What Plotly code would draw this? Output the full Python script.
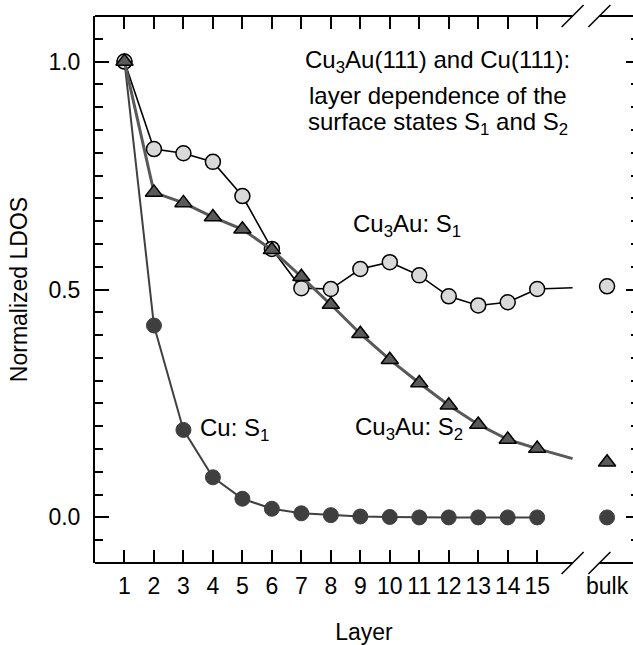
import plotly.graph_objects as go

# ---------------- data ----------------
layers = list(range(1, 16))
bulk_x = 17.37           # position of the "bulk" column on the (broken) layer axis
tail_x = 16.2            # calculated curves run on to the axis break

cu3au_s1 = [1.0, 0.808, 0.799, 0.780, 0.705, 0.589, 0.503, 0.501, 0.545, 0.560,
            0.531, 0.485, 0.465, 0.472, 0.501]
cu3au_s1_tail = 0.504
cu3au_s1_bulk = 0.507

cu3au_s2 = [1.0, 0.713, 0.690, 0.659, 0.632, 0.587, 0.528, 0.467, 0.403, 0.346,
            0.295, 0.246, 0.204, 0.171, 0.151]
cu3au_s2_tail = 0.129
cu3au_s2_bulk = 0.121

cu_s1 = [1.0, 0.421, 0.192, 0.088, 0.041, 0.019, 0.009, 0.005, 0.002, 0.001,
         0.0, 0.0, 0.0, 0.0, 0.0]
cu_s1_bulk = 0.0

y_tickvals = [0.0, 0.5, 1.0]
y_ticktext = ["0.0", "0.5", "1.0"]
x_ticktext = [str(v) for v in layers]

# ---------------- styling ----------------
FONT = "Liberation Sans, Arial, Helvetica, sans-serif"
FS = 23
FS_ANN = 24
XR = [0, 18.25]
YR = [-0.1, 1.1]
BREAK1, BREAK2 = 16.2, 17.11
PLOT_W, PLOT_H = 538, 547

fig = go.Figure()

# Cu: S1
fig.add_trace(go.Scatter(x=layers, y=cu_s1, mode="lines+markers",
                         line=dict(color="#404040", width=2),
                         marker=dict(symbol="circle", size=15, color="#3f3f3f",
                                     line=dict(color="#3f3f3f", width=1))))
fig.add_trace(go.Scatter(x=[bulk_x], y=[cu_s1_bulk], mode="markers",
                         marker=dict(symbol="circle", size=15, color="#3f3f3f",
                                     line=dict(color="#3f3f3f", width=1))))

# Cu3Au: S1
fig.add_trace(go.Scatter(x=layers + [tail_x], y=cu3au_s1 + [cu3au_s1_tail], mode="lines",
                         line=dict(color="black", width=1.6)))
fig.add_trace(go.Scatter(x=layers + [bulk_x], y=cu3au_s1 + [cu3au_s1_bulk], mode="markers",
                         marker=dict(symbol="circle", size=15, color="#d9d9d9",
                                     line=dict(color="black", width=1.5))))

# Cu3Au: S2
fig.add_trace(go.Scatter(x=layers + [tail_x], y=cu3au_s2 + [cu3au_s2_tail], mode="lines",
                         line=dict(color="#595959", width=3)))
fig.add_trace(go.Scatter(x=layers + [bulk_x], y=cu3au_s2 + [cu3au_s2_bulk], mode="markers",
                         marker=dict(symbol="triangle-up", size=15, color="#5a5a5a",
                                     line=dict(color="black", width=1.5))))

# bulk label axis
fig.add_trace(go.Scatter(x=[bulk_x], y=[0], xaxis="x2", mode="markers",
                         marker=dict(opacity=0), hoverinfo="skip"))
# right axis carrier
fig.add_trace(go.Scatter(x=[1], y=[0], yaxis="y2", mode="markers",
                         marker=dict(opacity=0), hoverinfo="skip"))

# frame lines with the axis break
shapes = []
lw = 2
PX_PER_X = PLOT_W / (XR[1] - XR[0])
for yp in (0, 1):
    shapes.append(dict(type="line", xref="x", yref="paper", x0=XR[0], x1=BREAK1,
                       y0=yp, y1=yp, line=dict(color="black", width=lw)))
    shapes.append(dict(type="line", xref="x", yref="paper", x0=BREAK2, x1=XR[1],
                       y0=yp, y1=yp, line=dict(color="black", width=lw)))
    for bx in (BREAK1, BREAK2):
        dx = 11 / PX_PER_X
        dy = 11 / PLOT_H
        shapes.append(dict(type="line", xref="x", yref="paper",
                           x0=bx - dx, x1=bx + dx, y0=yp - dy, y1=yp + dy,
                           line=dict(color="black", width=1.5)))

annotations = [
    dict(x=11.62, y=1.0, text="Cu<sub>3</sub>Au(111) and Cu(111):"),
    dict(x=11.62, y=0.925, text="layer dependence of the"),
    dict(x=11.62, y=0.864, text="surface states S<sub>1</sub> and S<sub>2</sub>"),
    dict(x=10.6, y=0.64, text="Cu<sub>3</sub>Au: S<sub>1</sub>"),
    dict(x=10.65, y=0.196, text="Cu<sub>3</sub>Au: S<sub>2</sub>"),
    dict(x=4.73, y=0.192, text="Cu: S<sub>1</sub>"),
]
for a in annotations:
    a.update(xref="x", yref="y", showarrow=False, xanchor="center", yanchor="middle",
             font=dict(family=FONT, size=FS_ANN, color="black"))

fig.update_layout(
    width=633, height=645,
    margin=dict(l=95, r=0, t=16, b=82, autoexpand=False),
    paper_bgcolor="white", plot_bgcolor="white",
    showlegend=False,
    font=dict(family=FONT, size=FS, color="black"),
    shapes=shapes,
    annotations=annotations,
    xaxis=dict(range=XR, tickvals=layers, ticktext=x_ticktext,
               ticks="inside", ticklen=13, tickwidth=1.5, tickcolor="black",
               showline=False, mirror="ticks", showgrid=False, zeroline=False,
               ticklabelstandoff=7, automargin=False,
               title=dict(text="Layer", font=dict(size=FS), standoff=25)),
    xaxis2=dict(range=XR, overlaying="x", side="bottom", tickvals=[bulk_x],
                ticktext=["bulk"], ticks="", showline=False, showgrid=False,
                zeroline=False, ticklabelstandoff=7, anchor="y",
                ticklabeloverflow="allow", automargin=False),
    yaxis=dict(range=YR, tickvals=y_tickvals, ticktext=y_ticktext,
               ticks="inside", ticklen=14, tickwidth=1.5, tickcolor="black",
               showline=True, linecolor="black", linewidth=2,
               showgrid=False, zeroline=False, automargin=False,
               minor=dict(dtick=0.05, tick0=0, ticks="inside", ticklen=8,
                          tickwidth=1.5, tickcolor="black", showgrid=False),
               ticklabelstandoff=8,
               title=dict(text="Normalized LDOS", font=dict(size=FS), standoff=14)),
    yaxis2=dict(range=YR, overlaying="y", side="right", tickvals=y_tickvals,
                ticks="inside", ticklen=7, tickwidth=1.5, tickcolor="black",
                showticklabels=False, showline=False, showgrid=False, zeroline=False,
                automargin=False,
                minor=dict(dtick=0.05, tick0=0, ticks="inside", ticklen=2,
                           tickwidth=1.5, tickcolor="black", showgrid=False)),
)

# remove the default page margin so the 633x645 figure fills the window exactly
fig.write_html("out.html",
               config={"displayModeBar": False},
               post_script="document.body.style.margin='0';"
                           "document.body.style.overflow='hidden';")
